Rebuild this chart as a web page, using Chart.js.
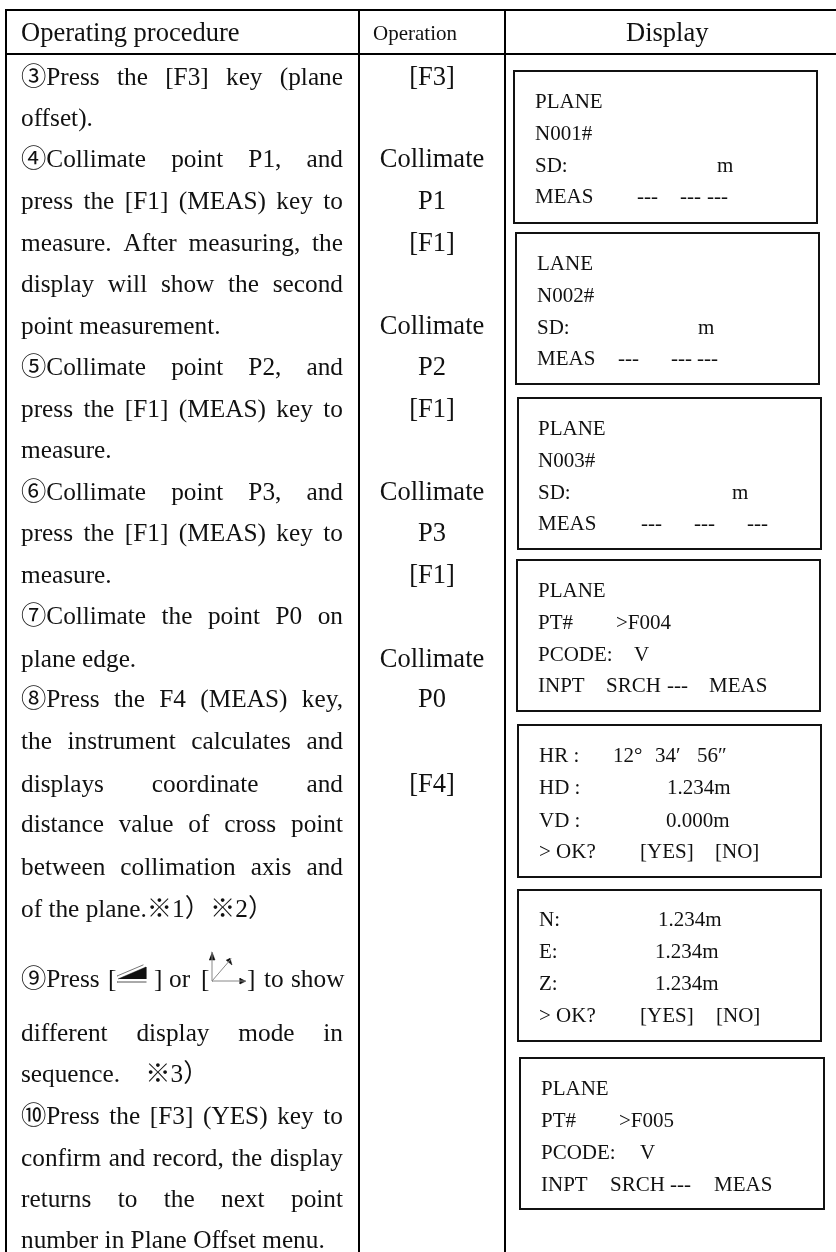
<!DOCTYPE html>
<html>
<head>
<meta charset="utf-8">
<title>Plane offset procedure</title>
<script src="https://cdn.jsdelivr.net/npm/chart.js@4/dist/chart.umd.min.js"></script>
<style>
html, body { margin: 0; padding: 0; background: #fff; overflow: hidden; }
canvas { display: block; }
</style>
</head>
<body>
<canvas id="myChart" width="836" height="1252"></canvas>
<script>
// the whole page is one chart, both axes run in page units
const PAGE_W = 836;
const PAGE_H = 1252;
const FONT = '"Liberation Serif", "Noto Sans CJK SC", serif';

// table text
const headerLabels = ["Operating procedure", "Operation", "Display"];

const procedureLines = [
    "③Press the [F3] key (plane",
    "offset).",
    "④Collimate point P1, and",
    "press the [F1] (MEAS) key to",
    "measure. After measuring, the",
    "display will show the second",
    "point measurement.",
    "⑤Collimate point P2, and",
    "press the [F1] (MEAS) key to",
    "measure.",
    "⑥Collimate point P3, and",
    "press the [F1] (MEAS) key to",
    "measure.",
    "⑦Collimate the point P0 on",
    "plane edge.",
    "⑧Press the F4 (MEAS) key,",
    "the instrument calculates and",
    "displays coordinate and",
    "distance value of cross point",
    "between collimation axis and",
    "of the plane.※1）※2）",
    "different display mode in",
    "sequence.    ※3）",
    "⑩Press the [F3] (YES) key to",
    "confirm and record, the display",
    "returns to the next point",
    "number in Plane Offset menu."
];
const procedureBaselines = [85, 126, 167, 209, 251, 292, 334, 375, 417, 458, 500, 541, 583, 624, 667, 707, 749, 792, 832, 875, 917, 1041, 1082, 1124, 1166, 1207, 1248];
// lines that end a paragraph are not stretched to the column width
const shortLines = ["offset).", "point measurement.", "measure.", "plane edge.", "of the plane.※1）※2）", "sequence.    ※3）", "number in Plane Offset menu."];

// the line with the two key icons is placed piece by piece
const iconLinePieces = ["⑨Press", "[", "]", "or", "[", "]", "to", "show"];
const iconLinePieceX = [21, 108, 154, 169, 201, 247, 264, 291];
const iconLineBaseline = 987;

const operationLabels = ["[F3]", "Collimate", "P1", "[F1]", "Collimate", "P2", "[F1]", "Collimate", "P3", "[F1]", "Collimate", "P0", "[F4]"];
const operationBaselines = [85, 167, 209, 251, 334, 375, 417, 500, 541, 583, 667, 707, 792];

// display boxes
const boxLeft = [514, 516, 518, 517, 518, 518, 520];
const boxRight = [817, 819, 821, 820, 821, 821, 824];
const boxTop = [71, 233, 398, 560, 725, 890, 1058];
const boxBottom = [223, 384, 549, 711, 877, 1041, 1209];

const displayLabels = [
    ["PLANE", "N001#", "SD:", "m", "MEAS", "---", "---", "---"],
    ["LANE", "N002#", "SD:", "m", "MEAS", "---", "---", "---"],
    ["PLANE", "N003#", "SD:", "m", "MEAS", "---", "---", "---"],
    ["PLANE", "PT#", ">F004", "PCODE:", "V", "INPT", "SRCH", "---", "MEAS"],
    ["HR :", "12°", "34′", "56″", "HD :", "1.234m", "VD :", "0.000m", "> OK?", "[YES]", "[NO]"],
    ["N:", "1.234m", "E:", "1.234m", "Z:", "1.234m", "> OK?", "[YES]", "[NO]"],
    ["PLANE", "PT#", ">F005", "PCODE:", "V", "INPT", "SRCH", "---", "MEAS"]
];
const displayLabelX = [
    [535, 535, 535, 717, 535, 637, 680, 707],
    [537, 537, 537, 698, 537, 618, 671, 697],
    [538, 538, 538, 732, 538, 641, 694, 747],
    [538, 538, 616, 538, 634, 538, 606, 667, 709],
    [539, 613, 655, 697, 539, 667, 539, 666, 539, 640, 715],
    [539, 658, 539, 655, 539, 655, 539, 640, 716],
    [541, 541, 619, 541, 640, 541, 610, 670, 714]
];
const displayLabelRow = [
    [0, 1, 2, 2, 3, 3, 3, 3],
    [0, 1, 2, 2, 3, 3, 3, 3],
    [0, 1, 2, 2, 3, 3, 3, 3],
    [0, 1, 1, 2, 2, 3, 3, 3, 3],
    [0, 0, 0, 0, 1, 1, 2, 2, 3, 3, 3],
    [0, 0, 1, 1, 2, 2, 3, 3, 3],
    [0, 1, 1, 2, 2, 3, 3, 3, 3]
];
const displayBaselines = [
    [108, 140, 172, 203],
    [270, 302, 334, 365],
    [435, 467, 499, 530],
    [597, 629, 661, 692],
    [762, 794, 827, 858],
    [926, 958, 990, 1022],
    [1095, 1127, 1159, 1191]
];

// table rules
const ruleVerticalX = [6, 359, 505];
const ruleHorizontalY = [10, 54];

// the two little key icons
const wedgeX = [118, 146, 146];
const wedgeY = [979, 967, 979];
const wedgeTopX = [117, 143];
const wedgeTopY = [976, 965];
const wedgeUnderX = [117, 146];
const wedgeUnderY = [982, 982];
const axesOriginX = 212;
const axesOriginY = 981;
const axesEndX = [212, 231, 245];
const axesEndY = [952, 959, 981];
const arrowHeadX = [[209, 215, 212], [226, 232, 230], [240, 240, 246]];
const arrowHeadY = [[960, 960, 952], [960, 965, 958], [978, 984, 981]];

function zip(xs, ys) {
    var points = [];
    for (var i = 0; i < xs.length; i++) {
        points.push({ x: xs[i], y: ys[i] });
    }
    return points;
}

function lineSet(points, color, width) {
    return {
        data: points,
        showLine: true,
        borderColor: color,
        borderWidth: width,
        pointRadius: 0,
        fill: false,
        tension: 0,
        borderCapStyle: "square"
    };
}

function shapeSet(xs, ys, color) {
    return {
        data: zip(xs, ys),
        showLine: true,
        borderColor: color,
        borderWidth: 0.5,
        backgroundColor: color,
        pointRadius: 0,
        fill: "shape",
        tension: 0
    };
}

function buildDatasets() {
    var sets = [];
    ruleVerticalX.forEach(function (x) {
        sets.push(lineSet(zip([x, x], [ruleHorizontalY[0], PAGE_H]), "#000", 2));
    });
    ruleHorizontalY.forEach(function (y) {
        sets.push(lineSet(zip([ruleVerticalX[0], PAGE_W], [y, y]), "#000", 2));
    });
    boxLeft.forEach(function (left, i) {
        var xs = [left, boxRight[i], boxRight[i], left, left];
        var ys = [boxTop[i], boxTop[i], boxBottom[i], boxBottom[i], boxTop[i]];
        sets.push(lineSet(zip(xs, ys), "#111", 2));
    });
    sets.push(shapeSet(wedgeX, wedgeY, "#111"));
    sets.push(lineSet(zip(wedgeTopX, wedgeTopY), "#777", 1));
    sets.push(lineSet(zip(wedgeUnderX, wedgeUnderY), "#555", 1));
    axesEndX.forEach(function (x, i) {
        sets.push(lineSet(zip([axesOriginX, x], [axesOriginY, axesEndY[i]]), "#888", 1));
    });
    arrowHeadX.forEach(function (xs, i) {
        sets.push(shapeSet(xs, arrowHeadY[i], "#111"));
    });
    return sets;
}

// stretch the gaps between words so the line fills the column
function drawJustified(ctx, text, left, right, y) {
    var words = text.split(" ");
    var total = 0;
    words.forEach(function (w) { total += ctx.measureText(w).width; });
    var gap = (right - left - total) / (words.length - 1);
    var x = left;
    words.forEach(function (w) {
        ctx.fillText(w, x, y);
        x += ctx.measureText(w).width + gap;
    });
}

const tablePrint = {
    id: "tablePrint",
    afterDraw: function (chart) {
        var ctx = chart.ctx;
        var sx = chart.scales.x;
        var sy = chart.scales.y;
        function px(v) { return sx.getPixelForValue(v); }
        function py(v) { return sy.getPixelForValue(v); }

        ctx.save();
        ctx.fillStyle = "#111";
        ctx.textBaseline = "alphabetic";
        ctx.textAlign = "left";

        // header
        ctx.font = "26.5px " + FONT;
        ctx.fillText(headerLabels[0], px(21), py(41));
        ctx.fillText(headerLabels[2], px(626), py(41));
        ctx.font = "21px " + FONT;
        ctx.fillText(headerLabels[1], px(373), py(40));

        // left column
        ctx.font = "25.3px " + FONT;
        procedureLines.forEach(function (line, i) {
            var y = py(procedureBaselines[i]);
            if (shortLines.indexOf(line) >= 0) {
                ctx.fillText(line, px(21), y);
            } else {
                drawJustified(ctx, line, px(21), px(343), y);
            }
        });
        iconLinePieces.forEach(function (piece, i) {
            ctx.fillText(piece, px(iconLinePieceX[i]), py(iconLineBaseline));
        });

        // middle column
        ctx.font = "26.5px " + FONT;
        ctx.textAlign = "center";
        operationLabels.forEach(function (label, i) {
            ctx.fillText(label, px(432), py(operationBaselines[i]));
        });

        // text inside the display boxes
        ctx.textAlign = "left";
        ctx.font = "21px " + FONT;
        displayLabels.forEach(function (labels, b) {
            labels.forEach(function (label, i) {
                ctx.fillText(label, px(displayLabelX[b][i]), py(displayBaselines[b][displayLabelRow[b][i]]));
            });
        });
        ctx.restore();
    }
};

var myChart = new Chart(document.getElementById("myChart"), {
    type: "scatter",
    data: { datasets: buildDatasets() },
    plugins: [tablePrint],
    options: {
        responsive: false,
        animation: false,
        events: [],
        layout: { padding: 0 },
        plugins: { legend: { display: false }, tooltip: { enabled: false } },
        scales: {
            x: { type: "linear", min: 0, max: PAGE_W, display: false },
            y: { type: "linear", min: 0, max: PAGE_H, reverse: true, display: false }
        }
    }
});
</script>
</body>
</html>
